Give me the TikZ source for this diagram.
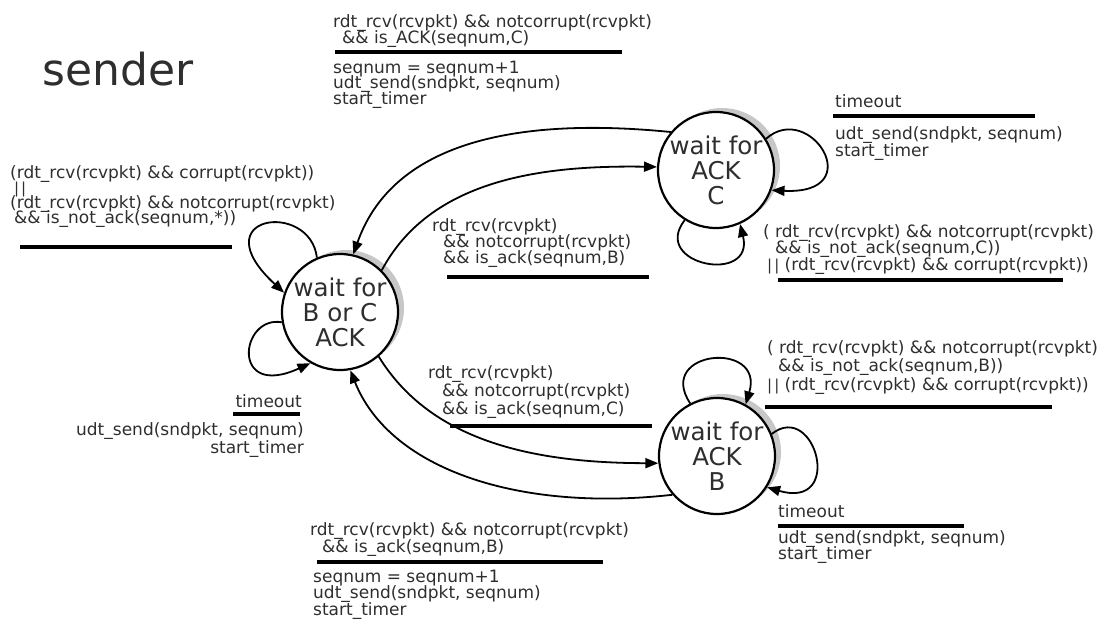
\documentclass[tikz,border=0pt]{standalone}
\usepackage{fontspec}
\setmainfont{DejaVu Sans}
\usetikzlibrary{arrows.meta,shadows}
\newcommand\lblfont[1]{\fontsize{17}{#1}\selectfont\lineskiplimit=-50pt\relax}
\newcommand\orbars{{\fontsize{15}{15}\selectfont|\kern2pt|}}
\begin{document}
\begin{tikzpicture}[x=1pt,y=-1pt,
  lbl/.style={anchor=base west, align=left, inner sep=0pt, text=black!82, font=\lblfont{16}},
  rlbl/.style={lbl, anchor=base east, align=right},
  state/.style={circle, draw=black, line width=2.2pt, fill=white, minimum size=116pt, inner sep=0pt, align=center, text=black!82, font=\fontsize{24.5}{25}\selectfont, drop shadow={shadow xshift=6pt, shadow yshift=4pt, fill=black!22, opacity=1}},
  edge/.style={line width=1.8pt, -{Triangle[length=13pt,width=10pt]}},
  rule/.style={line width=3.2pt}
]
\useasboundingbox (0,0) rectangle (1112,624);

\node[anchor=base west, inner sep=0pt, font=\fontsize{44}{44}\selectfont, text=black!82] (snd) at (42,85) {sender};

\node[state] (A) at (340,312) {wait for\\B or C\\ACK};
\node[state] (C) at (716,170) {wait for\\ACK\\C};
\node[state] (B) at (717,456) {wait for\\ACK\\B};

% transitions between states
\draw[edge] (C.140) .. controls (500,115) and (390,150) .. (A.77);
\draw[edge] (A.45) .. controls (430,180) and (540,165) .. (C.177);
\draw[edge] (A.-49) .. controls (430,440) and (530,463) .. (B.187);
\draw[edge] (B.221) .. controls (520,512) and (390,470) .. (A.280);
% self loops
\draw[edge] (A.113) .. controls (310,200) and (200,215) .. (A.161);
\draw[edge] (A.190) .. controls (240,315) and (230,400) .. (A.240);
\draw[edge] (C.32) .. controls (810,100) and (870,195) .. (C.-20);
\draw[edge] (C.238) .. controls (650,265) and (755,285) .. (C.294);
\draw[edge] (B.117) .. controls (655,350) and (765,340) .. (B.61);
\draw[edge] (B.22) .. controls (815,400) and (845,510) .. (B.-32);

% top label (C -> A)
\node[lbl] (t1) at (333,43) {rdt\_rcv(rcvpkt) \&\& notcorrupt(rcvpkt)\\\hspace*{9pt}\&\& is\_ACK(seqnum,C)};
\draw[rule] (335,52) -- (622,52);
\node[lbl, font=\lblfont{15.5}] (a1) at (333,104) {seqnum = seqnum+1\\udt\_send(sndpkt, seqnum)\\start\_timer};

% left loop label
\node[lbl, font=\lblfont{15}] (t2) at (10,223) {(rdt\_rcv(rcvpkt) \&\& corrupt(rcvpkt))\\\hspace*{4pt}\orbars\\(rdt\_rcv(rcvpkt) \&\& notcorrupt(rcvpkt)\\\hspace*{4pt}\&\& is\_not\_ack(seqnum,*))};
\draw[rule] (20,247) -- (232,247);

% A -> C label
\node[lbl] (t3) at (432,263) {rdt\_rcv(rcvpkt)\\\hspace*{11pt}\&\& notcorrupt(rcvpkt)\\\hspace*{11pt}\&\& is\_ack(seqnum,B)};
\draw[rule] (447,277) -- (649,277);

% C timeout
\node[lbl] (t4) at (835,107) {timeout};
\draw[rule] (833,116) -- (1035,116);
\node[lbl, font=\lblfont{17}] (a4) at (835,156) {udt\_send(sndpkt, seqnum)\\start\_timer};

% C bottom loop label
\node[lbl, font=\lblfont{16.5}] (t5) at (763,270) {( rdt\_rcv(rcvpkt) \&\& notcorrupt(rcvpkt)\\\hspace*{12pt}\&\& is\_not\_ack(seqnum,C))\\\hspace*{4pt}\orbars{} (rdt\_rcv(rcvpkt) \&\& corrupt(rcvpkt))};
\draw[rule] (778,280) -- (1063,280);

% A -> B label
\node[lbl, font=\lblfont{18}] (t6) at (428,414) {rdt\_rcv(rcvpkt)\\\hspace*{14pt}\&\& notcorrupt(rcvpkt)\\\hspace*{14pt}\&\& is\_ack(seqnum,C)};
\draw[rule] (450,426) -- (652,426);

% B top loop label
\node[lbl, font=\lblfont{18.5}] (t7) at (767,390) {( rdt\_rcv(rcvpkt) \&\& notcorrupt(rcvpkt)\\\hspace*{11pt}\&\& is\_not\_ack(seqnum,B))\\\orbars{} (rdt\_rcv(rcvpkt) \&\& corrupt(rcvpkt))};
\draw[rule] (765,407) -- (1052,407);

% B timeout
\node[lbl] (t8) at (778,517) {timeout};
\draw[rule] (778,526) -- (964,526);
\node[lbl] (a8) at (778,559) {udt\_send(sndpkt, seqnum)\\start\_timer};

% A timeout
\node[rlbl] (t9) at (302,407) {timeout};
\draw[rule] (233,414) -- (300,414);
\node[rlbl, font=\lblfont{18}] (a9) at (304,453) {udt\_send(sndpkt, seqnum)\\start\_timer};

% B -> A label
\node[lbl, font=\lblfont{17}] (t10) at (310,552) {rdt\_rcv(rcvpkt) \&\& notcorrupt(rcvpkt)\\\hspace*{12pt}\&\& is\_ack(seqnum,B)};
\draw[rule] (317,562) -- (603,562);
\node[lbl, font=\lblfont{16.5}] (a10) at (313,615) {seqnum = seqnum+1\\udt\_send(sndpkt, seqnum)\\start\_timer};
\end{tikzpicture}
\end{document}
